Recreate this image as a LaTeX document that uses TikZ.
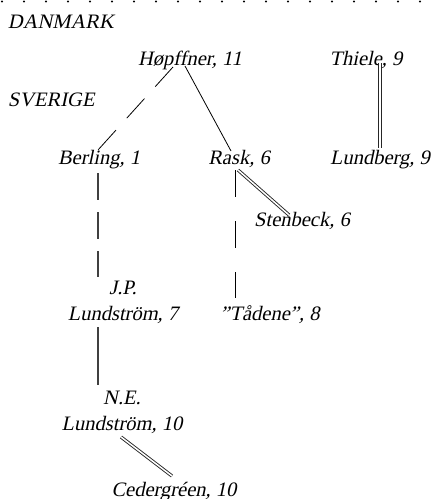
\documentclass[tikz,border=0pt]{standalone}
\usepackage{fontspec}
\newfontfamily\labelfont{Liberation Serif}[FakeSlant=0.21]
\newcommand{\twoline}[2]{\begin{tabular}[b]{@{}c@{}}#1\\#2\end{tabular}}
\begin{document}
\begin{tikzpicture}[x=1pt,y=-1pt,
  every node/.style={inner sep=0pt,outer sep=0pt,anchor=base,
    font=\labelfont\fontsize{20.5}{26}\selectfont},
  thinline/.style={draw=black,line width=0.8pt},
  thickline/.style={draw=black!75,line width=1.3pt},
  twinline/.style={draw=black!85,line width=0.9pt,double=white,double distance=1.5pt},
  longdash/.style={dash pattern=on 26.5pt off 16pt},
  rdash/.style={dash pattern=on 26.5pt off 24.5pt},
  bdash/.style={dash pattern=on 26.5pt off 12.5pt}]
\useasboundingbox (0,0) rectangle (434,499);
% dotted border along the top
\foreach \i in {0,...,19} \fill (2+22*\i,1.5) circle (1.1);
% country headings
\node[anchor=base west] (dk) at (8,28) {DANMARK};
\node[anchor=base west] (se) at (8,106) {SVERIGE};
% people
\node (hopf) at (190,65) {Høpffner, 11};
\node (thiele) at (366,65) {Thiele, 9};
\node (berling) at (99,164) {Berling, 1};
\node (rask) at (239,164) {Rask, 6};
\node (lundberg) at (380,164) {Lundberg, 9};
\node (stenbeck) at (302,226) {Stenbeck, 6};
\node (jp) at (123,320) {\twoline{J.P.}{Lundström, 7}};
\node (tadene) at (270,320) {”Tådene”, 8};
\node (ne) at (122,430) {\twoline{N.E.}{Lundström, 10}};
\node (ceder) at (174,496) {Cedergréen, 10};
% links
\draw[thinline,longdash] ([shift={(-17,2)}]hopf.base) -- ([shift={(-1,-14)}]berling.base);
\draw[thinline] ([shift={(-5,1)}]hopf.base) -- ([shift={(-8,-13)}]rask.base);
\draw[twinline] ([shift={(14,-2)}]thiele.base) -- ([shift={(0,-16)}]lundberg.base);
\draw[twinline] ([shift={(-1,6)}]rask.base) -- ([shift={(-13,-11)}]stenbeck.base);
\draw[thinline,rdash] ([shift={(-4,6)}]rask.base) -- ([shift={(-35,-22)}]tadene.base);
\draw[thickline,bdash] ([shift={(-1,9)}]berling.base) -- ([shift={(-25,-43)}]jp.base);
\draw[thickline] ([shift={(-25,7)}]jp.base) -- ([shift={(-24,-45)}]ne.base);
\draw[twinline] ([shift={(-1,7)}]ne.base) -- ([shift={(-2,-20)}]ceder.base);
\end{tikzpicture}
\end{document}
